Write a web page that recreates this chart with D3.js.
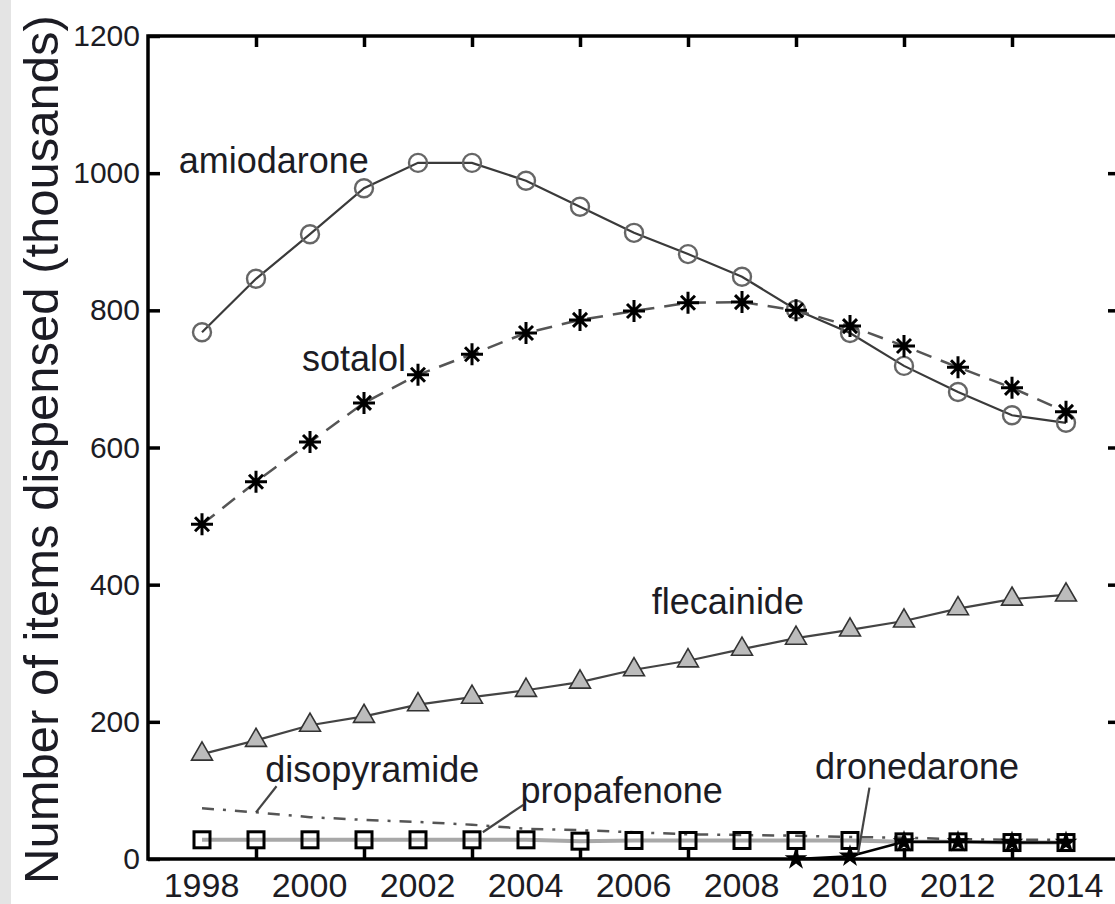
<!DOCTYPE html>
<html>
<head>
<meta charset="utf-8">
<script src="https://cdn.jsdelivr.net/npm/d3@7"></script>
<style>
  html, body { margin: 0; padding: 0; background: #fff; }
  #chart { width: 1115px; height: 904px; position: relative; overflow: hidden; }
  text { font-family: "Liberation Sans", Arial, sans-serif; fill: #1c1c24; }
</style>
</head>
<body>
<div id="chart"></div>
<script>
// years on the x axis
const years = d3.range(1998, 2015);

// items dispensed, thousands
const amiodarone = [768, 846, 911, 978, 1015, 1015, 989, 951, 913, 882, 849, 801, 767, 719, 681, 647, 636];
const sotalol = [488, 550, 608, 665, 706, 736, 767, 786, 799, 811, 812, 800, 777, 748, 717, 687, 652];
const flecainide = [153, 173, 195, 208, 225, 236, 246, 258, 276, 289, 306, 322, 334, 347, 365, 379, 385];
const disopyramide = [74, 68, 61, 57, 54, 50, 44, 42, 39, 36, 35, 34, 32, 31, 29, 28, 28];
const propafenone = [28, 28, 28, 28, 28, 28, 28, 26, 27, 27, 27, 27, 27, 25, 25, 24, 24];
const droneYears = [2009, 2010, 2011, 2012, 2013, 2014];
const dronedarone = [0, 4, 25, 25, 24, 24];

const yTicks = [0, 200, 400, 600, 800, 1000, 1200];
const xLabelYears = [1998, 2000, 2002, 2004, 2006, 2008, 2010, 2012, 2014];
const xTickYears = [1999, 2001, 2003, 2005, 2007, 2009, 2011, 2013];

// name, label anchor [year, value], leader [from, to] or null
const labels = [
  { name: "amiodarone", at: [1997.57, 1000], leader: null },
  { name: "sotalol", at: [1999.85, 711], leader: null },
  { name: "flecainide", at: [2006.33, 357], leader: null },
  { name: "disopyramide", at: [1999.17, 112], leader: [[1999.38, 106], [1999.0, 68]] },
  { name: "propafenone", at: [2003.9, 82], leader: [[2003.95, 79], [2003.2, 39]] },
  { name: "dronedarone", at: [2009.35, 116], leader: [[2010.36, 104], [2010.15, 8]] }
];

const svg = d3.select("#chart").append("svg")
  .attr("width", 1115)
  .attr("height", 904);

// grey strip on the left edge of the scan
svg.append("rect").attr("x", 0).attr("y", 0).attr("width", 11).attr("height", 904).attr("fill", "#e4e4e4");

const x = d3.scaleLinear().domain([1997, 2015]).range([148, 1120]);
const y = d3.scaleLinear().domain([0, 1200]).range([859, 36]);

// ticks and tick labels
svg.append("g")
  .attr("transform", `translate(${x(1997)},0)`)
  .call(d3.axisLeft(y).tickValues(yTicks).tickSizeInner(-12).tickSizeOuter(0).tickPadding(8).tickFormat(d3.format("d")))
  .call(g => g.select(".domain").remove())
  .call(g => g.selectAll("line").attr("stroke", "#000").attr("stroke-width", 3.5))
  .call(g => g.selectAll("text").attr("font-size", 30).attr("fill", "#1c1c24").attr("font-family", "Liberation Sans, Arial"));

svg.append("g")
  .attr("transform", `translate(${x(2015)},0)`)
  .call(d3.axisRight(y).tickValues(yTicks.slice(1, -1)).tickSizeInner(-12).tickSizeOuter(0).tickFormat(""))
  .call(g => g.select(".domain").remove())
  .call(g => g.selectAll("line").attr("stroke", "#000").attr("stroke-width", 3.5));

svg.append("g")
  .attr("transform", `translate(0,${y(0)})`)
  .call(d3.axisBottom(x).tickValues(xLabelYears).tickSize(0).tickPadding(14).tickFormat(d3.format("d")))
  .call(g => g.select(".domain").remove())
  .call(g => g.selectAll("text").attr("font-size", 34).attr("dx", -1).attr("fill", "#1c1c24").attr("font-family", "Liberation Sans, Arial"));

svg.append("g")
  .attr("transform", `translate(0,${y(0)})`)
  .call(d3.axisBottom(x).tickValues(xTickYears).tickSizeInner(-11).tickSizeOuter(0).tickFormat(""))
  .call(g => g.select(".domain").remove())
  .call(g => g.selectAll("line").attr("stroke", "#000").attr("stroke-width", 3.5));

svg.append("g")
  .attr("transform", `translate(0,${y(1200)})`)
  .call(d3.axisTop(x).tickValues(xTickYears).tickSizeInner(-11).tickSizeOuter(0).tickFormat(""))
  .call(g => g.select(".domain").remove())
  .call(g => g.selectAll("line").attr("stroke", "#000").attr("stroke-width", 3.5));

// axis title
svg.append("text")
  .attr("transform", `translate(58,${(y(0) + y(1200)) / 2 + 2}) rotate(-90)`)
  .attr("text-anchor", "middle")
  .attr("font-size", 49)
  .text("Number of items dispensed (thousands)");

const plot = svg.append("g");

const line = d3.line().x(d => x(d[0])).y(d => y(d[1]));
const pairs = (vals, yrs = years) => vals.map((v, i) => [yrs[i], v]);

// propafenone (under everything low down)
plot.append("path").datum(pairs(propafenone)).attr("d", line)
  .attr("fill", "none").attr("stroke", "#a8a8a8").attr("stroke-width", 4);

// disopyramide
plot.append("path").datum(pairs(disopyramide)).attr("d", line)
  .attr("fill", "none").attr("stroke", "#555").attr("stroke-width", 2.5)
  .attr("stroke-dasharray", "12,9,3,9");

// flecainide
plot.append("path").datum(pairs(flecainide)).attr("d", line)
  .attr("fill", "none").attr("stroke", "#444").attr("stroke-width", 2.2);
plot.selectAll(".tri").data(pairs(flecainide)).enter().append("path")
  .attr("class", "tri")
  .attr("transform", d => `translate(${x(d[0])},${y(d[1])})`)
  .attr("d", d3.symbol(d3.symbolTriangle, 190))
  .attr("fill", "#bcbcbc").attr("stroke", "#333").attr("stroke-width", 1.6);

// amiodarone
plot.append("path").datum(pairs(amiodarone)).attr("d", line)
  .attr("fill", "none").attr("stroke", "#3a3a3a").attr("stroke-width", 2.2);
plot.selectAll(".circ").data(pairs(amiodarone)).enter().append("circle")
  .attr("class", "circ")
  .attr("cx", d => x(d[0])).attr("cy", d => y(d[1])).attr("r", 9)
  .attr("fill", "none").attr("stroke", "#666").attr("stroke-width", 2.4);

// sotalol
plot.append("path").datum(pairs(sotalol)).attr("d", line)
  .attr("fill", "none").attr("stroke", "#555").attr("stroke-width", 2.5)
  .attr("stroke-dasharray", "16,10");
const asterisk = "M-11,0H11M0,-11V11M-7,-7L7,7M-7,7L7,-7";
plot.selectAll(".ast").data(pairs(sotalol)).enter().append("path")
  .attr("class", "ast")
  .attr("transform", d => `translate(${x(d[0])},${y(d[1])})`)
  .attr("d", asterisk)
  .attr("fill", "none").attr("stroke", "#000").attr("stroke-width", 3);

// propafenone squares
plot.selectAll(".sq").data(pairs(propafenone)).enter().append("rect")
  .attr("class", "sq")
  .attr("x", d => x(d[0]) - 8).attr("y", d => y(d[1]) - 8)
  .attr("width", 16).attr("height", 16)
  .attr("fill", "none").attr("stroke", "#000").attr("stroke-width", 3);

// dronedarone
plot.append("path").datum(pairs(dronedarone, droneYears)).attr("d", line)
  .attr("fill", "none").attr("stroke", "#000").attr("stroke-width", 2.5);
plot.selectAll(".star").data(pairs(dronedarone, droneYears)).enter().append("path")
  .attr("class", "star")
  .attr("transform", d => `translate(${x(d[0])},${y(d[1])})`)
  .attr("d", d3.symbol(d3.symbolStar, 160))
  .attr("fill", "#000");

// series labels and leader lines
const lab = svg.append("g");
lab.selectAll(".leader").data(labels.filter(d => d.leader)).enter().append("line")
  .attr("class", "leader")
  .attr("x1", d => x(d.leader[0][0])).attr("y1", d => y(d.leader[0][1]))
  .attr("x2", d => x(d.leader[1][0])).attr("y2", d => y(d.leader[1][1]))
  .attr("stroke", "#444").attr("stroke-width", 2.2);
lab.selectAll(".lbl").data(labels).enter().append("text")
  .attr("class", "lbl")
  .attr("x", d => x(d.at[0])).attr("y", d => y(d.at[1]))
  .attr("font-size", 36)
  .text(d => d.name);

// frame
svg.append("rect")
  .attr("x", x(1997)).attr("y", y(1200))
  .attr("width", x(2015) - x(1997)).attr("height", y(0) - y(1200))
  .attr("fill", "none").attr("stroke", "#000").attr("stroke-width", 3.5);
</script>
</body>
</html>
